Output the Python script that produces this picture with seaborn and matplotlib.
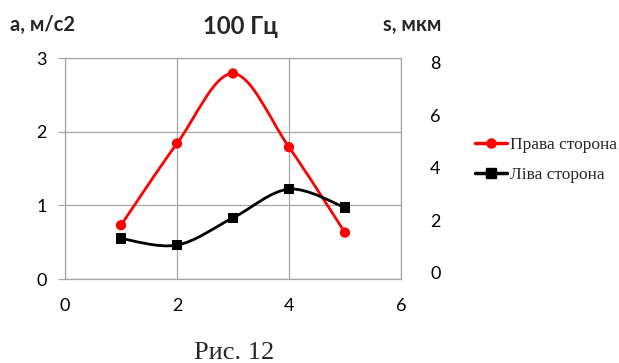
import numpy as np
import pandas as pd
import matplotlib
matplotlib.use("Agg")
import matplotlib.pyplot as plt
from matplotlib.path import Path
from matplotlib.patches import PathPatch
from matplotlib.lines import Line2D
import seaborn as sns

# Measurement points
x_vals = [1, 2, 3, 4, 5]
right_side = [0.73, 1.84, 2.79, 1.79, 0.63]   # Права сторона
left_side = [0.55, 0.46, 0.83, 1.22, 0.97]    # Ліва сторона
series_names = ["Права сторона", "Ліва сторона"]
series_colors = ["#ff0000", "#000000"]
series_markers = ["o", "s"]

x_ticks = [0, 2, 4, 6]
a_ticks = [0, 1, 2, 3]
s_ticks = [0, 2, 4, 6, 8]

sns.set_theme(style="white")
plt.rcParams["font.family"] = ["Lato", "DejaVu Sans"]

GRID = "#a6a6a6"

fig = plt.figure(figsize=(6.19, 3.63), dpi=100)
ax = fig.add_axes([0.1050, 0.2314, 0.5428, 0.6088])

df = pd.DataFrame({
    "x": x_vals * 2,
    "y": right_side + left_side,
    "series": [series_names[0]] * len(x_vals) + [series_names[1]] * len(x_vals),
})


def smooth_path(xs, ys):
    """Cubic Bezier path through the points (Catmull-Rom style smoothing)."""
    pts = np.column_stack([xs, ys]).astype(float)
    ext = np.vstack([pts[0], pts, pts[-1]])
    verts = [tuple(pts[0])]
    codes = [Path.MOVETO]
    for i in range(len(pts) - 1):
        p0, p1, p2, p3 = ext[i], ext[i + 1], ext[i + 2], ext[i + 3]
        c1 = p1 + (p2 - p0) / 6.0
        c2 = p2 - (p3 - p1) / 6.0
        verts += [tuple(c1), tuple(c2), tuple(p2)]
        codes += [Path.CURVE4] * 3
    return Path(verts, codes)


for name, color in zip(series_names, series_colors):
    sub = df[df["series"] == name]
    ax.add_patch(PathPatch(smooth_path(sub["x"].values, sub["y"].values),
                           facecolor="none", edgecolor=color, lw=2.0,
                           zorder=3, capstyle="round", joinstyle="round"))

sns.scatterplot(data=df, x="x", y="y", hue="series", style="series",
                hue_order=series_names, style_order=series_names,
                palette=series_colors, markers=series_markers,
                s=55, edgecolor="none", legend=False, ax=ax, zorder=4)

ax.set_xlim(0, 6)
ax.set_ylim(0, 3)
ax.set_xticks(x_ticks)
ax.set_yticks(a_ticks)
ax.set_xlabel("")
ax.set_ylabel("")
ax.grid(True, color=GRID, lw=0.9)
ax.set_axisbelow(True)
for sp in ax.spines.values():
    sp.set_visible(True)
    sp.set_color(GRID)
    sp.set_linewidth(0.9)
ax.tick_params(axis="both", which="major", direction="out", length=5,
               width=0.9, color=GRID, labelsize=13, labelcolor="#000000")
ax.tick_params(axis="y", pad=8)
ax.tick_params(axis="x", pad=9)

# Secondary scale for displacement
ax2 = ax.twinx()
ax2.set_ylim(-0.23, 8.19)
ax2.set_yticks(s_ticks)
ax2.grid(False)
for sp in ax2.spines.values():
    sp.set_visible(False)
ax2.tick_params(axis="y", length=0, pad=21, labelsize=13, labelcolor="#000000")

fig.text(0.388, 0.926, "100 Гц", ha="center", va="center",
         fontsize=17.2, fontweight="bold")
fig.text(0.016, 0.931, "а, м/с2", ha="left", va="center",
         fontsize=14.5, fontweight="bold")
fig.text(0.713, 0.931, "s, мкм", ha="right", va="center",
         fontsize=14.5, fontweight="bold")

handles = [Line2D([0], [0], color=c, lw=2.5, marker=m, markersize=6.5)
           for c, m in zip(series_colors, series_markers)]
fig.legend(handles, series_names, loc="upper left",
           bbox_to_anchor=(0.767, 0.624), frameon=False,
           prop={"family": "Liberation Serif", "size": 12.5},
           handlelength=1.84, handletextpad=0.2, labelspacing=0.8,
           borderpad=0, borderaxespad=0)

fig.text(0.378, 0.027, "Рис. 12", ha="center", va="center",
         fontsize=19, family="Liberation Serif")

fig.savefig("out.png", dpi=100, facecolor="white")
